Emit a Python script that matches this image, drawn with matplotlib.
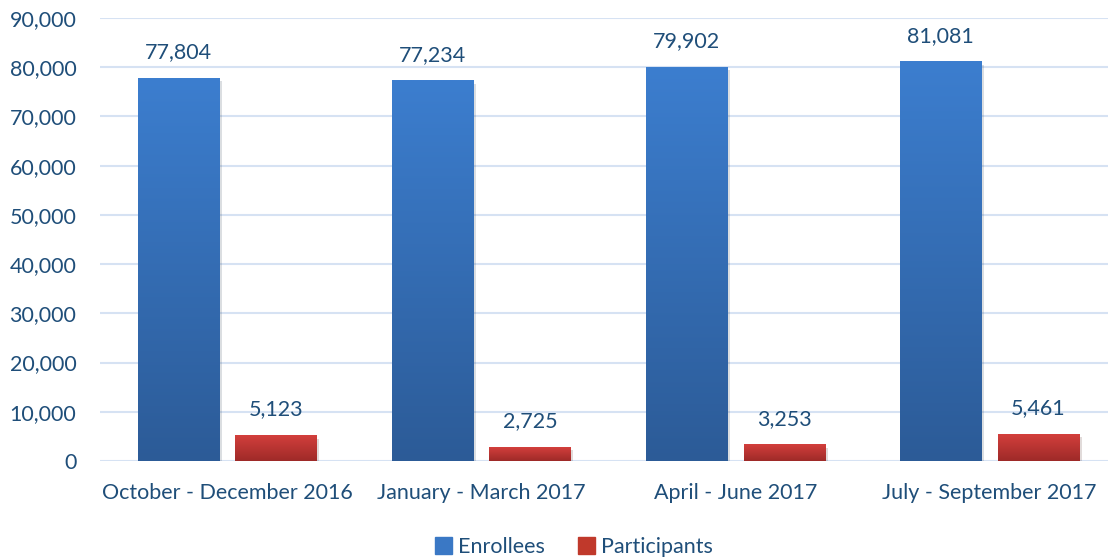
import numpy as np
import matplotlib.pyplot as plt
from matplotlib.colors import LinearSegmentedColormap
import matplotlib.patheffects as pe

categories = ['October - December 2016', 'January - March 2017',
              'April - June 2017', 'July - September 2017']
enrollees = [77804, 77234, 79902, 81081]
participants = [5123, 2725, 3253, 5461]

plt.rcParams['font.family'] = ['Lato', 'DejaVu Sans']
txt = '#1f4e79'
fs = 15.5

fig = plt.figure(figsize=(11.08, 5.57), dpi=100)
ax = fig.add_axes([100 / 1108, (557 - 461) / 557, 1008 / 1108, (461 - 18) / 557])

x = np.arange(len(categories))
w = 0.32
off = 0.192
blue_cm = LinearSegmentedColormap.from_list('b', ['#2c5b97', '#3c7ecf'])
red_cm = LinearSegmentedColormap.from_list('r', ['#9e2a28', '#d33f3c'])
grad = np.linspace(0, 1, 256).reshape(-1, 1)

for vals, dx, cm, col in [(enrollees, -off, blue_cm, '#3a78c5'),
                          (participants, off, red_cm, '#c0392b')]:
    bars = ax.bar(x + dx, vals, w, color=col, zorder=2,
                  path_effects=[pe.SimplePatchShadow(offset=(2, -2), alpha=0.15), pe.Normal()])
    for b, v in zip(bars, vals):
        x0 = b.get_x()
        ax.imshow(grad, cmap=cm, origin='lower', aspect='auto', zorder=3,
                  extent=[x0, x0 + w, 0, v])
        ax.text(x0 + w / 2, v + 3300, f'{v:,}', ha='center', va='bottom',
                fontsize=fs, color=txt, zorder=4)

ax.set_xlim(-0.5, 3.466)
ax.set_ylim(0, 90000)
ax.set_yticks(np.arange(0, 90001, 10000))
ax.set_yticklabels([f'{t:,}' for t in range(0, 90001, 10000)])
ax.set_xticks(x)
ax.set_xticklabels(categories)
ax.grid(axis='y', color='#d6e2f3', linewidth=1.5, zorder=0)
for s in ax.spines.values():
    s.set_visible(False)
ax.tick_params(length=0, labelsize=fs, labelcolor=txt)
ax.tick_params(axis='y', pad=17)
ax.tick_params(axis='x', pad=16)

h1 = plt.Rectangle((0, 0), 1, 1, color='#3a78c5')
h2 = plt.Rectangle((0, 0), 1, 1, color='#c0392b')
leg = fig.legend([h1, h2], ['Enrollees', 'Participants'], loc='lower center',
                 bbox_to_anchor=(0.518, -0.035), ncol=2, frameon=False, fontsize=fs,
                 handlelength=0.8, handleheight=0.8, handletextpad=0.3, columnspacing=1.5)
for t in leg.get_texts():
    t.set_color(txt)

fig.savefig('out.png', dpi=100)
